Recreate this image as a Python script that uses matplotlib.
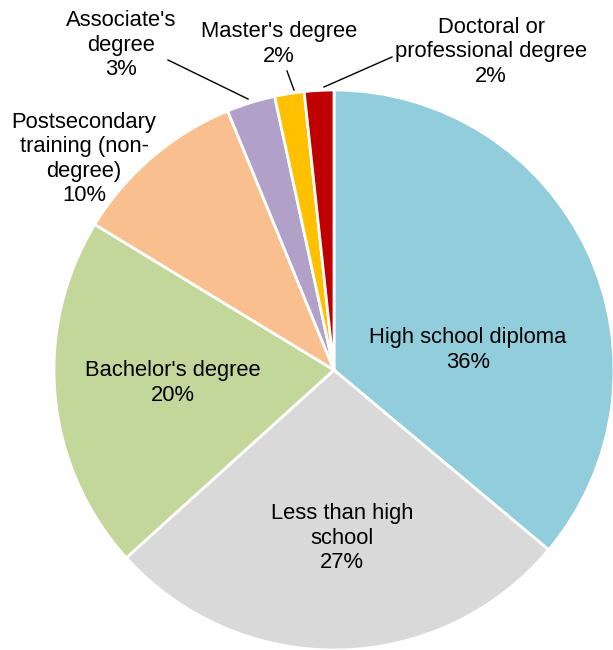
import matplotlib
matplotlib.use("Agg")
import matplotlib.pyplot as plt

plt.rcParams['font.family'] = ['Liberation Sans', 'DejaVu Sans']

# shares of each education level, clockwise from 12 o'clock
categories = ["High school diploma", "Less than high\nschool", "Bachelor's degree",
              "Postsecondary\ntraining (non-\ndegree)", "Associate's\ndegree",
              "Master's degree", "Doctoral or\nprofessional degree"]
shares = [36.1, 27.2, 20.4, 10.1, 2.8, 1.7, 1.7]
pct_labels = ["36%", "27%", "20%", "10%", "3%", "2%", "2%"]
colors = ["#92CDDC", "#D9D9D9", "#C4D79B", "#FABF8F", "#B1A0C7", "#FFC000", "#C00000"]

W, H = 613, 650
fig = plt.figure(figsize=(W / 100, H / 100), dpi=100)
ax = fig.add_axes([0, 0, 1, 1])

cx, cy, r = 334, H - 370, 280
ax.pie(shares, colors=colors, startangle=90, counterclock=False,
       center=(cx, cy), radius=r, frame=True,
       wedgeprops=dict(edgecolor="white", linewidth=2))
ax.set_xlim(0, W)
ax.set_ylim(0, H)
ax.set_aspect("equal")
ax.axis("off")

# label positions in pixel coordinates (x, y from top)
label_pos = [(468, 350), (342, 538), (173, 383), (84, 159), (121, 45), (279, 44), (491, 52)]
for name, pct, (x, y) in zip(categories, pct_labels, label_pos):
    ax.text(x, H - y, name + "\n" + pct, ha="center", va="center",
            fontsize=15.8, linespacing=1.22, color="black")

# leader lines for small slices
leaders = [((168, 60), (248, 99)), ((287, 71), (294, 90)), ((392, 57), (324, 87))]
for (x0, y0), (x1, y1) in leaders:
    ax.plot([x0, x1], [H - y0, H - y1], color="black", linewidth=1)

fig.savefig("out.png", dpi=100)
